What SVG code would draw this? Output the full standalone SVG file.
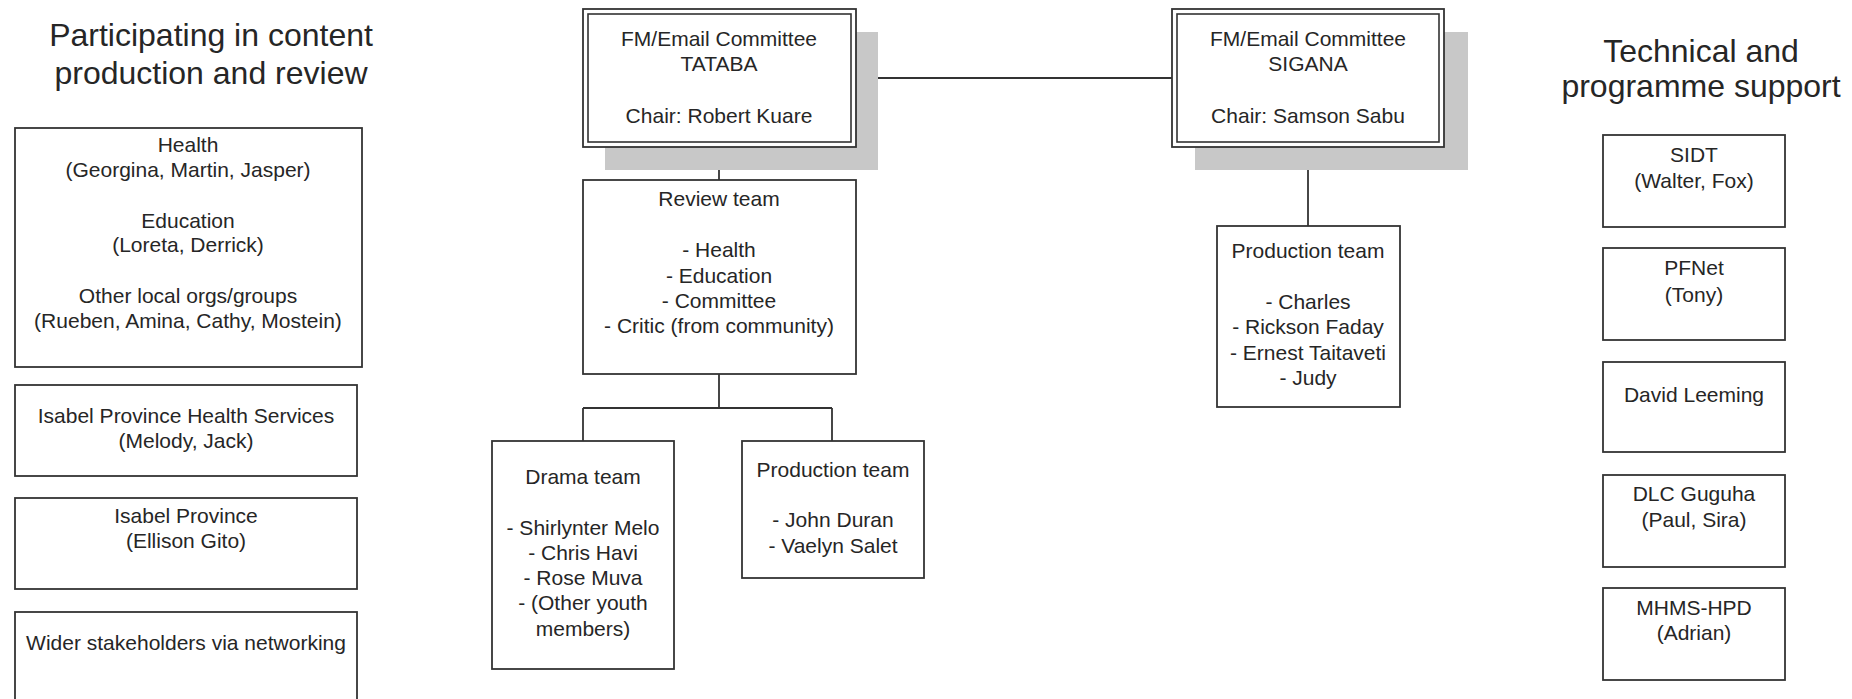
<svg xmlns="http://www.w3.org/2000/svg" width="1852" height="699" viewBox="0 0 1852 699">
<style>
.bg{fill:#ffffff}
.box{fill:#ffffff;stroke:#333333;stroke-width:1.8}
.dbl{fill:none;stroke:#333333;stroke-width:1.6}
.shadow{fill:#c8c8c8;stroke:none}
.conn{fill:none;stroke:#333333;stroke-width:1.8}
text{font-family:"Liberation Sans",Arial,sans-serif;fill:#262626;text-anchor:middle}
.t{font-size:21px}
.h{font-size:32px}
</style>
<rect class="bg" x="0" y="0" width="1852" height="699"/>

<g id="title-left"><text class="h" x="211" y="46">Participating in content</text><text class="h" x="211" y="84">production and review</text></g>
<g id="title-right"><text class="h" x="1701" y="62">Technical and</text><text class="h" x="1701" y="97">programme support</text></g>

<g id="connectors">
<path class="conn" d="M856 78 H1172"/>
<path class="conn" d="M719 147 V180"/>
<path class="conn" d="M719 374 V408 M583 408 H832 M583 408 V441 M832 408 V441"/>
<path class="conn" d="M1308 147 V226"/>
</g>

<g id="tataba">
<rect class="shadow" x="605" y="32" width="273" height="138"/>
<rect class="box" x="583" y="9" width="273" height="138"/>
<rect class="dbl" x="588" y="14" width="263" height="128"/>
<text class="t" x="719" y="46">FM/Email Committee</text>
<text class="t" x="719" y="71">TATABA</text>
<text class="t" x="719" y="123">Chair: Robert Kuare</text>
</g>

<g id="sigana">
<rect class="shadow" x="1195" y="32" width="273" height="138"/>
<rect class="box" x="1172" y="9" width="272" height="138"/>
<rect class="dbl" x="1177" y="14" width="262" height="128"/>
<text class="t" x="1308" y="46">FM/Email Committee</text>
<text class="t" x="1308" y="71">SIGANA</text>
<text class="t" x="1308" y="123">Chair: Samson Sabu</text>
</g>

<g id="review-team">
<rect class="box" x="583" y="180" width="273" height="194"/>
<text class="t" x="719" y="206">Review team</text>
<text class="t" x="719" y="257">- Health</text>
<text class="t" x="719" y="283">- Education</text>
<text class="t" x="719" y="308">- Committee</text>
<text class="t" x="719" y="333">- Critic (from community)</text>
</g>

<g id="drama-team">
<rect class="box" x="492" y="441" width="182" height="228"/>
<text class="t" x="583" y="484">Drama team</text>
<text class="t" x="583" y="535">- Shirlynter Melo</text>
<text class="t" x="583" y="560">- Chris Havi</text>
<text class="t" x="583" y="585">- Rose Muva</text>
<text class="t" x="583" y="610">- (Other youth</text>
<text class="t" x="583" y="636">members)</text>
</g>

<g id="production-team-tataba">
<rect class="box" x="742" y="441" width="182" height="137"/>
<text class="t" x="833" y="477">Production team</text>
<text class="t" x="833" y="527">- John Duran</text>
<text class="t" x="833" y="553">- Vaelyn Salet</text>
</g>

<g id="production-team-sigana">
<rect class="box" x="1217" y="226" width="183" height="181"/>
<text class="t" x="1308" y="258">Production team</text>
<text class="t" x="1308" y="309">- Charles</text>
<text class="t" x="1308" y="334">- Rickson Faday</text>
<text class="t" x="1308" y="360">- Ernest Taitaveti</text>
<text class="t" x="1308" y="385">- Judy</text>
</g>

<g id="left-health-education">
<rect class="box" x="15" y="128" width="347" height="239"/>
<text class="t" x="188" y="152">Health</text>
<text class="t" x="188" y="177">(Georgina, Martin, Jasper)</text>
<text class="t" x="188" y="228">Education</text>
<text class="t" x="188" y="252">(Loreta, Derrick)</text>
<text class="t" x="188" y="303">Other local orgs/groups</text>
<text class="t" x="188" y="328">(Rueben, Amina, Cathy, Mostein)</text>
</g>
<g id="left-iphs">
<rect class="box" x="15" y="385" width="342" height="91"/>
<text class="t" x="186" y="423">Isabel Province Health Services</text>
<text class="t" x="186" y="448">(Melody, Jack)</text>
</g>
<g id="left-isabel">
<rect class="box" x="15" y="498" width="342" height="91"/>
<text class="t" x="186" y="523">Isabel Province</text>
<text class="t" x="186" y="548">(Ellison Gito)</text>
</g>
<g id="left-wider">
<rect class="box" x="15" y="612" width="342" height="100"/>
<text class="t" x="186" y="650">Wider stakeholders via networking</text>
</g>

<g id="sidt"><rect class="box" x="1603" y="135" width="182" height="92"/><text class="t" x="1694" y="162">SIDT</text><text class="t" x="1694" y="188">(Walter, Fox)</text></g>
<g id="pfnet"><rect class="box" x="1603" y="248" width="182" height="92"/><text class="t" x="1694" y="275">PFNet</text><text class="t" x="1694" y="302">(Tony)</text></g>
<g id="david-leeming"><rect class="box" x="1603" y="362" width="182" height="90"/><text class="t" x="1694" y="402">David Leeming</text></g>
<g id="dlc-guguha"><rect class="box" x="1603" y="475" width="182" height="92"/><text class="t" x="1694" y="501">DLC Guguha</text><text class="t" x="1694" y="527">(Paul, Sira)</text></g>
<g id="mhms-hpd"><rect class="box" x="1603" y="588" width="182" height="92"/><text class="t" x="1694" y="615">MHMS-HPD</text><text class="t" x="1694" y="640">(Adrian)</text></g>
</svg>
